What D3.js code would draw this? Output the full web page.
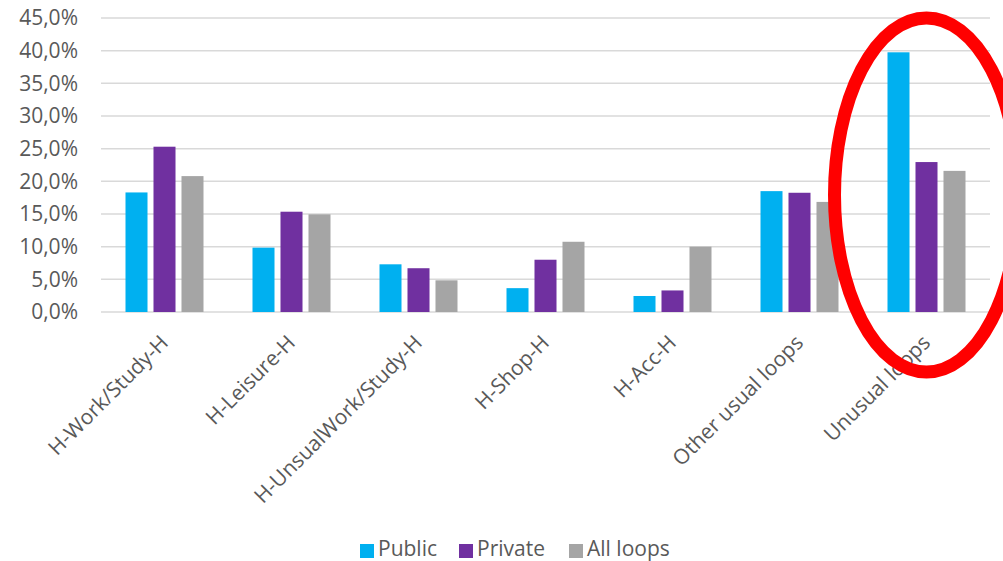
<!DOCTYPE html>
<html>
<head>
<meta charset="utf-8">
<script src="https://cdn.jsdelivr.net/npm/d3@7"></script>
<style>
  body { margin: 0; background: #fff; }
  text { font-family: "Open Sans", sans-serif; fill: #595959; }
</style>
</head>
<body>
<svg id="mainSvg" width="1003" height="561"></svg>
<script>
// chart data
var categories = ["H-Work/Study-H", "H-Leisure-H", "H-UnsualWork/Study-H", "H-Shop-H", "H-Acc-H", "Other usual loops", "Unusual loops"];
var series = ["Public", "Private", "All loops"];
var publicValues  = [18.3, 9.85, 7.3, 3.65, 2.45, 18.5, 39.75];
var privateValues = [25.3, 15.35, 6.7, 8.0, 3.3, 18.25, 22.95];
var allValues     = [20.8, 14.95, 4.85, 10.75, 10.0, 16.85, 21.6];
var yTicks = [0, 5, 10, 15, 20, 25, 30, 35, 40, 45];
var highlighted = "Unusual loops";

function drawChart() {
  var colors = {"Public": "#00B0F0", "Private": "#7030A0", "All loops": "#A5A5A5"};

  var rows = categories.map(function(c, i) {
    return {cat: c, "Public": publicValues[i], "Private": privateValues[i], "All loops": allValues[i]};
  });

  var svg = d3.select("#mainSvg");

  var margin = {left: 101, right: 990, top: 18, bottom: 312};

  var x0 = d3.scaleBand()
    .domain(categories)
    .range([margin.left, margin.right])
    .padding(0);

  var groupW = 78;
  var x1 = d3.scaleBand()
    .domain(series)
    .range([-groupW / 2, groupW / 2])
    .paddingInner(0.214);

  var y = d3.scaleLinear()
    .domain([0, 45])
    .range([margin.bottom, margin.top]);

  // gridlines
  svg.append("g")
    .selectAll("line")
    .data(yTicks)
    .enter().append("line")
    .attr("x1", margin.left)
    .attr("x2", margin.right)
    .attr("y1", function(d) { return y(d); })
    .attr("y2", function(d) { return y(d); })
    .attr("stroke", "#d9d9d9")
    .attr("stroke-width", 1.5);

  // y axis labels
  var yAxis = d3.axisLeft(y)
    .tickValues(yTicks)
    .tickSize(0)
    .tickPadding(0)
    .tickFormat(function(d) { return d3.format(".1f")(d).replace(".", ",") + "%"; });

  var yG = svg.append("g")
    .attr("transform", "translate(78,0)")
    .call(yAxis);
  yG.select(".domain").remove();
  yG.selectAll("text")
    .attr("font-size", 21)
    .style("font-family", "'Open Sans', sans-serif")
    .attr("fill", "#595959");

  // bars
  var groups = svg.append("g")
    .selectAll("g")
    .data(rows)
    .enter().append("g")
    .attr("transform", function(d) { return "translate(" + (x0(d.cat) + x0.bandwidth() / 2) + ",0)"; });

  groups.selectAll("rect")
    .data(function(d) { return series.map(function(s) { return {s: s, v: d[s]}; }); })
    .enter().append("rect")
    .attr("x", function(d) { return x1(d.s); })
    .attr("width", x1.bandwidth())
    .attr("y", function(d) { return y(d.v); })
    .attr("height", function(d) { return y(0) - y(d.v); })
    .attr("fill", function(d) { return colors[d.s]; });

  // x axis labels, rotated
  var xAxis = d3.axisBottom(x0).tickSize(0).tickPadding(0);
  var xG = svg.append("g")
    .attr("transform", "translate(0," + margin.bottom + ")")
    .call(xAxis);
  xG.select(".domain").remove();
  xG.selectAll("text")
    .attr("font-size", 21)
    .style("font-family", "'Open Sans', sans-serif")
    .attr("fill", "#595959")
    .attr("y", 0)
    .attr("dy", 0)
    .attr("text-anchor", "end")
    .attr("transform", "translate(5,32) rotate(-45)");

  // highlight ellipse (drawn over the label)
  svg.append("ellipse")
    .attr("cx", x0(highlighted) + x0.bandwidth() / 2)
    .attr("cy", 195)
    .attr("rx", 92)
    .attr("ry", 177)
    .attr("fill", "none")
    .attr("stroke", "#ff0000")
    .attr("stroke-width", 13);

  // legend
  var legendX = [360, 459, 569];
  var legend = svg.append("g")
    .selectAll("g")
    .data(series)
    .enter().append("g")
    .attr("transform", function(d, i) { return "translate(" + legendX[i] + ",544)"; });

  legend.append("rect")
    .attr("width", 14)
    .attr("height", 14)
    .attr("fill", function(d) { return colors[d]; });

  legend.append("text")
    .attr("x", 18)
    .attr("y", 12)
    .attr("font-size", 21)
    .text(function(d) { return d; });
}

drawChart();
</script>
</body>
</html>
